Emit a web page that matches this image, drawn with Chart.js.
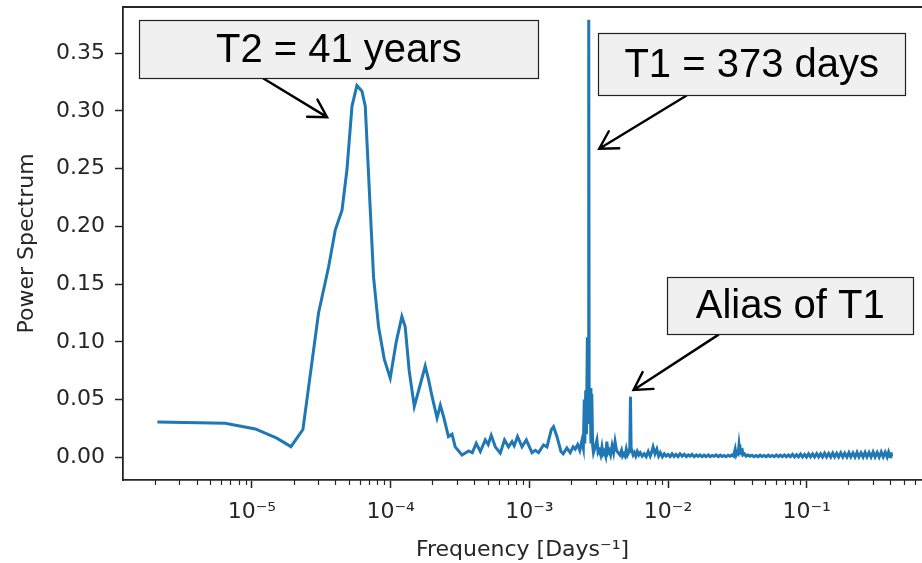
<!DOCTYPE html>
<html>
<head>
<meta charset="utf-8">
<script src="https://cdn.jsdelivr.net/npm/chart.js@4.4.1/dist/chart.umd.min.js"></script>
<style>
  html, body { margin: 0; padding: 0; background: #fff; overflow: hidden; }
  canvas { display: block; }
</style>
</head>
<body>
<canvas id="chart" width="922" height="563"></canvas>
<script>
// frequency in days^-1
const freq = [
  2.08e-6, 6.41e-6, 1.057e-5, 1.51e-5, 1.91e-5, 2.33e-5, 3.02e-5, 3.57e-5, 3.99e-5, 4.46e-5,
  4.84e-5, 5.26e-5, 5.71e-5, 6.21e-5, 6.56e-5, 7.13e-5, 7.53e-5, 8.18e-5, 8.99e-5, 9.93e-5,
  1.097e-4, 1.205e-4, 1.273e-4, 1.36e-4, 1.48e-4, 1.61e-4, 1.775e-4, 1.87e-4, 1.99e-4, 2.16e-4,
  2.28e-4, 2.41e-4, 2.61e-4, 2.77e-4, 2.92e-4, 3.27e-4, 3.65e-4, 3.88e-4, 4.14e-4, 4.43e-4,
  4.81e-4, 5.05e-4, 5.31e-4, 5.68e-4, 6.17e-4, 6.62e-4, 7.08e-4, 7.50e-4, 7.78e-4, 8.22e-4,
  8.85e-4, 9.51e-4, 1.045e-3, 1.104e-3, 1.165e-3, 1.265e-3, 1.34e-3, 1.44e-3, 1.494e-3, 1.58e-3,
  1.69e-3, 1.755e-3, 1.865e-3, 1.97e-3, 2.07e-3, 2.14e-3, 2.23e-3, 2.31e-3, 2.39e-3, 2.45e-3,
  2.49e-3, 2.51e-3, 2.55e-3, 2.58e-3, 2.62e-3, 2.65e-3, 2.681e-3, 2.70e-3, 2.74e-3, 2.78e-3,
  2.82e-3, 2.86e-3, 2.90e-3, 2.98e-3, 3.07e-3, 3.13e-3, 3.2e-3, 3.27e-3, 3.34e-3, 3.4e-3,
  3.47e-3, 3.55e-3, 3.62e-3, 3.69e-3, 3.76e-3, 3.85e-3, 3.95e-3, 4.05e-3, 4.15e-3, 4.25e-3,
  4.36e-3, 4.5e-3, 4.62e-3, 4.7e-3, 4.8e-3, 4.9e-3, 5.0e-3, 5.1e-3, 5.2e-3, 5.3e-3,
  5.362e-3, 5.42e-3, 5.48e-3, 5.6e-3, 5.72e-3, 5.85e-3, 6.0e-3, 6.15e-3,
  6.3e-3, 6.51e-3, 6.73e-3, 6.96e-3, 7.2e-3, 7.44e-3, 7.6e-3, 7.8e-3, 8.05e-3, 8.3e-3,
  8.55e-3, 8.8e-3, 9.1e-3, 9.4e-3, 9.7e-3, 1.0e-2, 1.035e-2, 1.07e-2, 1.105e-2, 1.14e-2,
  1.18e-2, 1.22e-2, 1.265e-2, 1.31e-2, 1.355e-2, 1.40e-2, 1.445e-2, 1.49e-2, 1.545e-2, 1.6e-2,
  1.65e-2, 1.7e-2, 1.76e-2, 1.82e-2, 1.885e-2, 1.95e-2, 2.015e-2, 2.08e-2, 2.15e-2, 2.22e-2,
  2.3e-2, 2.38e-2, 2.46e-2, 2.54e-2, 2.62e-2, 2.71e-2, 2.8e-2, 2.9e-2, 2.97e-2, 3.05e-2,
  3.1e-2, 3.15e-2, 3.2e-2, 3.25e-2, 3.3e-2, 3.36e-2, 3.41e-2, 3.47e-2, 3.56e-2, 3.65e-2,
  3.77e-2, 3.9e-2, 4.03e-2, 4.17e-2, 4.31e-2, 4.46e-2, 4.61e-2, 4.77e-2, 4.93e-2, 5.1e-2,
  5.28e-2, 5.46e-2, 5.65e-2, 5.84e-2, 6.04e-2, 6.24e-2, 6.45e-2, 6.67e-2, 6.9e-2, 7.14e-2,
  7.38e-2, 7.63e-2, 7.89e-2, 8.16e-2, 8.44e-2, 8.72e-2, 9.02e-2, 9.33e-2, 9.65e-2, 9.97e-2,
  0.1031, 0.1066, 0.1103, 0.114, 0.118, 0.122, 0.126, 0.130, 0.1345, 0.139,
  0.144, 0.149, 0.154, 0.159, 0.1645, 0.170, 0.176, 0.182, 0.188, 0.195,
  0.2015, 0.208, 0.2155, 0.223, 0.2305, 0.238, 0.2465, 0.255, 0.2635, 0.272,
  0.2815, 0.291, 0.301, 0.311, 0.322, 0.333, 0.3445, 0.356, 0.368, 0.380,
  0.3895, 0.399, 0.405, 0.410
]

const power = [
  0.0306, 0.0295, 0.0245, 0.0165, 0.0092, 0.024, 0.125, 0.165, 0.197, 0.214,
  0.249, 0.304, 0.322, 0.317, 0.304, 0.214, 0.156, 0.113, 0.085, 0.0685,
  0.100, 0.122, 0.113, 0.075, 0.044, 0.060, 0.079, 0.068, 0.0525, 0.034,
  0.045, 0.035, 0.018, 0.020, 0.009, 0.002, 0.0055, 0.004, 0.012, 0.005,
  0.015, 0.011, 0.019, 0.009, 0.0035, 0.015, 0.009, 0.0135, 0.010, 0.018,
  0.009, 0.015, 0.004, 0.006, 0.004, 0.0107, 0.009, 0.024, 0.0265, 0.018,
  0.005, 0.003, 0.008, 0.004, 0.009, 0.007, 0.011, 0.006, 0.014, 0.008,
  0.050, 0.012, 0.058, 0.020, 0.104, 0.030, 0.379, 0.040, 0.060, 0.012,
  0.055, 0.010, 0.004, 0.009, 0.015, 0.004, 0.006, 0.002, 0.009, 0.003,
  0.005, 0.001, 0.0135, 0.004, 0.006, 0.002, 0.010, 0.004, 0.0135, 0.006,
  0.004, 0.002, 0.006, 0.001, 0.003, 0.001, 0.007, 0.002, 0.004, 0.008,
  0.0525, 0.005, 0.006, 0.002, 0.004, 0.001, 0.005, 0.002,
  0.004, 0.001, 0.003, 0.0005, 0.005, 0.001, 0.004, 0.009, 0.003, 0.007,
  0.001, 0.004, 0.0005, 0.003, 0.001, 0.0025, 0.0005, 0.003, 0.0008, 0.0025,
  0.0005, 0.003, 0.001, 0.0025, 0.0005, 0.002, 0.001, 0.0025, 0.0005, 0.002,
  0.0008, 0.002, 0.0005, 0.0018, 0.0006, 0.002, 0.0005, 0.0015, 0.0008, 0.002,
  0.0005, 0.0018, 0.0006, 0.0015, 0.0005, 0.0018, 0.0008, 0.002, 0.001, 0.007,
  0.002, 0.004, 0.003, 0.011, 0.004, 0.003, 0.008, 0.002, 0.003, 0.001,
  0.002, 0.0008, 0.0018, 0.0005, 0.0015, 0.0005, 0.0018, 0.0006, 0.0015, 0.0005,
  0.0018, 0.0006, 0.0015, 0.0005, 0.002, 0.0006, 0.0018, 0.0005, 0.002, 0.0005,
  0.002, 0.0005, 0.0025, 0.0003, 0.0022, 0.0004, 0.0028, 0.0003, 0.0025, 0.0002,
  0.003, 0.0003, 0.0028, 0.0002, 0.0032, 0.0003, 0.003, 0.0002, 0.0035, 0.0003,
  0.0033, 0.0002, 0.0036, 0.0003, 0.0034, 0.0002, 0.0038, 0.0003, 0.0035, 0.0002,
  0.004, 0.0003, 0.0037, 0.0002, 0.0042, 0.0003, 0.0038, 0.0002, 0.0043, 0.0003,
  0.004, 0.0002, 0.0045, 0.0003, 0.0042, 0.0002, 0.0046, 0.0003, 0.0044, 0.0002,
  0.0045, 0.0004, 0.0042, 0.001
]

const yTicks = [0, 0.05, 0.10, 0.15, 0.20, 0.25, 0.30, 0.35]
const xTicks = [1e-5, 1e-4, 1e-3, 1e-2, 1e-1]
const xTickLabels = ['10⁻⁵', '10⁻⁴', '10⁻³', '10⁻²', '10⁻¹']

// callouts: box centre, arrow tail and tip in data units
const notes = [
  { text: 'T2 = 41 years', at: [4.23e-5, 0.3538], w: 399, h: 58, from: [1.186e-5, 0.3287], to: [3.48e-5, 0.2946] },
  { text: 'T1 = 373 days', at: [4.01e-2, 0.3408], w: 307, h: 62, from: [1.352e-2, 0.3131], to: [3.19e-3, 0.2672] },
  { text: 'Alias of T1', at: [7.60e-2, 0.1315], w: 246, h: 57, from: [2.30e-2, 0.106], to: [5.64e-3, 0.0583] }
]

const ink = '#262626'

const frame = {
  id: 'frame',
  afterDraw(chart){
    const ctx = chart.ctx
    const area = chart.chartArea
    const x = chart.scales.x
    ctx.save()
    ctx.strokeStyle = ink
    ctx.lineWidth = 1.8
    ctx.beginPath()
    ctx.moveTo(area.left - 0.9, area.top)
    ctx.lineTo(area.right, area.top)
    ctx.stroke()
    // minor log ticks
    ctx.lineWidth = 1.2
    ctx.beginPath()
    for(let e = -6; e <= 0; e++){
      for(let m = 2; m <= 9; m++){
        const v = m * Math.pow(10, e)
        if(v < x.min || v > x.max) continue
        const px = Math.round(x.getPixelForValue(v)) + 0.5
        ctx.moveTo(px, area.bottom)
        ctx.lineTo(px, area.bottom + 5)
      }
    }
    ctx.stroke()
    ctx.restore()
  }
}

const callouts = {
  id: 'callouts',
  afterDraw(chart){
    const ctx = chart.ctx
    const sx = chart.scales.x
    const sy = chart.scales.y
    ctx.save()
    notes.forEach(n => {
      const x0 = sx.getPixelForValue(n.from[0]), y0 = sy.getPixelForValue(n.from[1])
      const x1 = sx.getPixelForValue(n.to[0]), y1 = sy.getPixelForValue(n.to[1])
      const ang = Math.atan2(y1 - y0, x1 - x0)
      const head = 20, spread = Math.PI / 6
      ctx.strokeStyle = '#000'
      ctx.lineWidth = 2.4
      ctx.lineCap = 'round'
      ctx.beginPath()
      ctx.moveTo(x0, y0)
      ctx.lineTo(x1, y1)
      ctx.moveTo(x1 - head * Math.cos(ang - spread), y1 - head * Math.sin(ang - spread))
      ctx.lineTo(x1, y1)
      ctx.lineTo(x1 - head * Math.cos(ang + spread), y1 - head * Math.sin(ang + spread))
      ctx.stroke()

      const cx = sx.getPixelForValue(n.at[0]), cy = sy.getPixelForValue(n.at[1])
      const left = Math.round(cx - n.w / 2) + 0.5, top = Math.round(cy - n.h / 2) + 0.5
      ctx.fillStyle = '#f0f0f0'
      ctx.fillRect(left, top, n.w, n.h)
      ctx.lineWidth = 1.2
      ctx.strokeStyle = '#222'
      ctx.strokeRect(left, top, n.w, n.h)
      ctx.fillStyle = '#000'
      ctx.font = '40px "Liberation Sans", Arial, sans-serif'
      ctx.textAlign = 'center'
      ctx.textBaseline = 'middle'
      ctx.fillText(n.text, cx, cy + 2)
    })
    ctx.restore()
  }
}

Chart.defaults.font.family = '"DejaVu Sans", sans-serif'
Chart.defaults.font.size = 22
Chart.defaults.color = ink

new Chart(document.getElementById('chart'), {
  type: 'line',
  data: {
    datasets: [{
      data: freq.map((f, i) => ({ x: f, y: power[i] })),
      borderColor: '#1f77b4',
      borderWidth: 3,
      pointRadius: 0,
      tension: 0,
      fill: false
    }]
  },
  options: {
    responsive: false,
    animation: false,
    devicePixelRatio: 1,
    layout: { padding: { top: 7, right: 0, bottom: 0, left: 0 } },
    plugins: { legend: { display: false }, tooltip: { enabled: false } },
    scales: {
      x: {
        type: 'logarithmic',
        min: 1.175e-6,
        max: 0.678,
        afterBuildTicks: s => { s.ticks = xTicks.map(v => ({ value: v })) },
        afterFit: s => { s.height = 83; s.paddingLeft = 0; s.paddingRight = 0 },
        ticks: { callback: (v, i) => xTickLabels[i], autoSkip: false, maxRotation: 0, padding: 11, color: ink },
        grid: { drawOnChartArea: false, tickLength: 8, tickWidth: 1.5, tickColor: ink },
        border: { color: ink, width: 1.8 },
        title: { display: true, text: 'Frequency [Days⁻¹]', color: ink, padding: { top: 0, bottom: 0 } }
      },
      y: {
        min: -0.0197,
        max: 0.390,
        afterBuildTicks: s => { s.ticks = yTicks.map(v => ({ value: v })) },
        afterFit: s => { s.width = 123; s.paddingTop = 0; s.paddingBottom = 0 },
        ticks: { callback: v => v.toFixed(2), padding: 10, color: ink },
        grid: { drawOnChartArea: false, tickLength: 8, tickWidth: 1.5, tickColor: ink },
        border: { color: ink, width: 1.8 },
        title: { display: true, text: 'Power Spectrum', color: ink, padding: { top: 14, bottom: 0 } }
      }
    }
  },
  plugins: [frame, callouts]
})
</script>
</body>
</html>
